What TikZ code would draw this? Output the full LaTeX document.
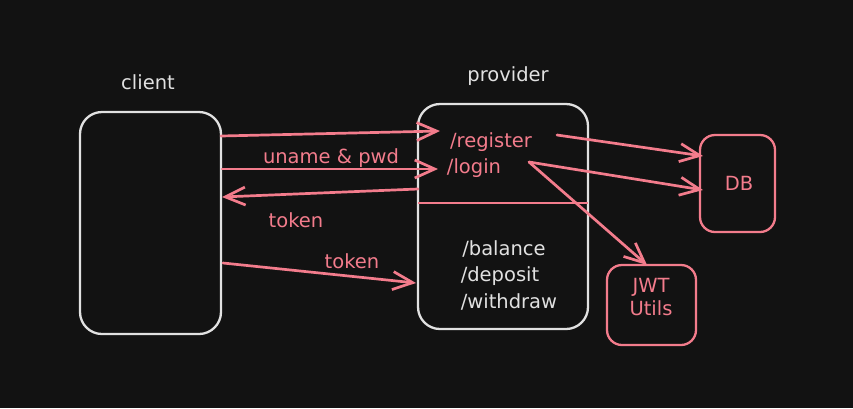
\documentclass[tikz,border=0pt]{standalone}
\usepackage{fontspec}
\setmainfont{DejaVu Sans}
\usetikzlibrary{arrows.meta}
\definecolor{bg}{RGB}{18,18,18}
\definecolor{pk}{RGB}{243,124,140}
\definecolor{wh}{RGB}{225,225,225}
\begin{document}
\begin{tikzpicture}[x=1pt,y=-1pt,
  box/.style={draw, line width=2.3pt, inner sep=0pt},
  wbox/.style={box, draw=wh, rounded corners=22pt},
  pbox/.style={box, draw=pk, rounded corners=15pt},
  lbl/.style={font=\fontsize{19.5}{23}\selectfont, inner sep=0pt},
  ptxt/.style={lbl, text=pk},
  wtxt/.style={lbl, text=wh},
  conn/.style={draw=pk, line width=2.7pt, line cap=round, line join=round,
    -{Straight Barb[length=20pt,width=18pt]}},
]
\fill[bg] (0,0) rectangle (853,408);
\useasboundingbox (0,0) rectangle (853,408);

% boxes
\node[wbox, minimum width=141pt, minimum height=222pt] (client) at (150.5,223) {};
\node[wbox, minimum width=170pt, minimum height=225pt] (provider) at (503,216.5) {};
\node[pbox, minimum width=75pt, minimum height=97pt] (db) at (737.5,183.5) {};
\node[pbox, minimum width=89pt, minimum height=80pt] (jwt) at (651.5,305) {};

% titles
\node[wtxt] (clientlbl) at (148,82) {client};
\node[wtxt] (providerlbl) at (508,76) {provider};
\node[ptxt] (dblbl) at (739,183) {DB};
\node[ptxt, align=center] (jwtlbl) at (651,297) {JWT\\Utils};

% endpoints
\node[ptxt] (reg) at (491,142) {/register};
\node[ptxt] (login) at (474,168) {/login};
\node[wtxt] (bal) at (504,249) {/balance};
\node[wtxt] (dep) at (500,276) {/deposit};
\node[wtxt] (wd) at (509,302) {/withdraw};

% connector labels
\node[ptxt] (l1) at (331,158) {uname \& pwd};
\node[ptxt] (l2) at (296,220) {token};
\node[ptxt] (l3) at (352,261) {token};

% connector end points
\coordinate (a1s) at (221,136); \coordinate (a1e) at (440,131);
\coordinate (a2s) at (222,169); \coordinate (a2e) at (438,169);
\coordinate (a3s) at (418,189); \coordinate (a3e) at (222,197);
\coordinate (a4s) at (223,263); \coordinate (a4e) at (416,283);
\coordinate (a6s) at (557,135); \coordinate (a6e) at (703,156);
\coordinate (a7s) at (529,162); \coordinate (a7e) at (703,190);
\coordinate (a8e) at (647,265);
\coordinate (dvs) at (418,203); \coordinate (dve) at (588,203);

\draw[conn] (a1s) -- (a1e);
\draw[conn] (a2s) -- (a2e);
\draw[conn] (a3s) -- (a3e);
\draw[conn] (a4s) -- (a4e);
\draw[conn] (a6s) -- (a6e);
\draw[conn] (a7s) -- (a7e);
\draw[conn] (a7s) -- (a8e);
\draw[draw=pk, line width=2.4pt] (dvs) -- (dve);
\end{tikzpicture}
\end{document}
